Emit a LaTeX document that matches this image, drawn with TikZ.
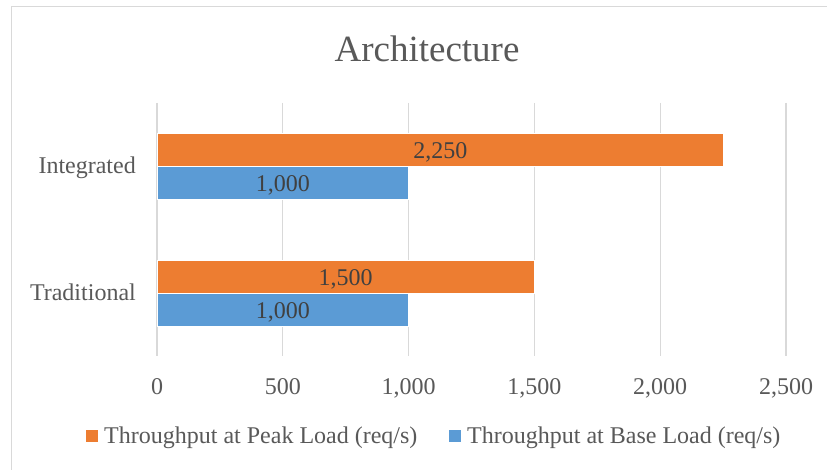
\documentclass[tikz,border=0pt]{standalone}
\usepackage{fontspec}
\setmainfont{Liberation Serif}
\definecolor{txt}{HTML}{595959}
\definecolor{dlab}{HTML}{404040}
\definecolor{grid}{HTML}{D9D9D9}
\definecolor{peak}{HTML}{ED7D31}
\definecolor{base}{HTML}{5B9BD5}
\tikzset{
  lbl/.style={inner sep=0pt, text=txt, font=\fontsize{24}{28}\selectfont},
  dl/.style={inner sep=0pt, text=dlab, font=\fontsize{24}{28}\selectfont, anchor=base},
  ttl/.style={inner sep=0pt, text=txt, font=\fontsize{37}{42}\selectfont, anchor=base},
  gridline/.style={draw=grid, line width=1.2pt},
  peakbar/.style={fill=peak, draw=white, line width=0.6pt},
  basebar/.style={fill=base, draw=white, line width=0.6pt},
}
\begin{document}
\begin{tikzpicture}[x=1pt, y=-1pt]
\useasboundingbox (0,0) rectangle (827,470);
\fill[white] (0,0) rectangle (827,470);
% frame
\draw[draw=grid, line width=1.2pt] (11.5,6.5) rectangle (900,520);
% title
\node[ttl] (title) at (427,61.5) {Architecture};
% grid lines
\foreach \i/\v in {0/0,1/500,2/1{,}000,3/1{,}500,4/2{,}000,5/2{,}500} {
  \draw[gridline] ({157+\i*125.8},103) -- ({157+\i*125.8},356);
  \node[lbl, anchor=base] (tick\i) at ({157+\i*125.8},394) {\v};
}
% bars
\filldraw[peakbar] (157,133.3) rectangle (723.5,166.3);
\filldraw[basebar] (157,166.3) rectangle (408.6,199.3);
\filldraw[peakbar] (157,260) rectangle (534.4,293);
\filldraw[basebar] (157,293) rectangle (408.6,326);
% data labels
\node[dl] (dIp) at (440.3,159) {2,250};
\node[dl] (dIb) at (282.8,191.5) {1,000};
\node[dl] (dTp) at (345.7,285.5) {1,500};
\node[dl] (dTb) at (282.8,318) {1,000};
% category labels
\node[lbl, anchor=base east] (catI) at (136,174) {Integrated};
\node[lbl, anchor=base east] (catT) at (136,301) {Traditional};
% legend
\fill[peak] (86,430) rectangle (98,442);
\node[lbl, anchor=base west] (legP) at (104,443) {Throughput at Peak Load (req/s)};
\fill[base] (449,430) rectangle (461,442);
\node[lbl, anchor=base west] (legB) at (467,443) {Throughput at Base Load (req/s)};
\end{tikzpicture}
\end{document}
